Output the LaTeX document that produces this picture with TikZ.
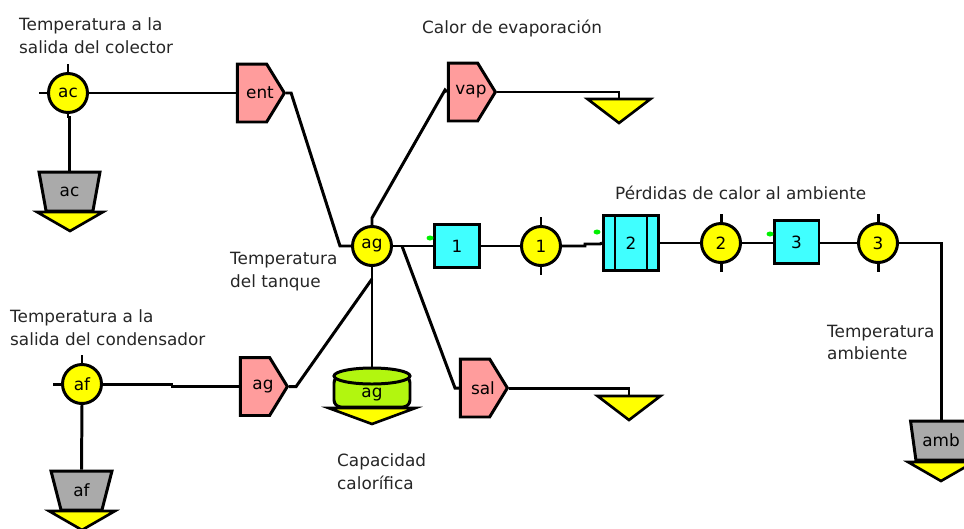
\documentclass[tikz,border=0pt]{standalone}
\usepackage{fontspec}
\setmainfont{DejaVu Sans}
\usetikzlibrary{shapes.geometric,shapes.symbols}
\definecolor{flowred}{RGB}{255,156,156}
\definecolor{gatecyan}{RGB}{64,255,255}
\definecolor{tanklime}{RGB}{178,246,15}
\definecolor{boundgray}{RGB}{170,170,170}
\definecolor{sumyellow}{RGB}{255,255,0}
\definecolor{portgreen}{RGB}{0,240,0}
\begin{document}
\begin{tikzpicture}[x=0.02cm, y=-0.02cm, font=\fontsize{9.6pt}{13pt}\selectfont]
    % Define styles
    \tikzset{
        wire/.style={line width=1.7pt, black},
        sumnode/.style={circle, draw, line width=1.7pt, fill=sumyellow, inner sep=0pt, minimum size=0.78cm},
        flow/.style={signal, signal to=east, signal pointer angle=117, draw, line width=1.7pt, fill=flowred, inner sep=0pt, minimum width=0.94cm, minimum height=1.16cm},
        flowlabel/.style={xshift=0.16cm},
        gate/.style={rectangle, draw, line width=1.7pt, fill=gatecyan, inner sep=0pt, minimum width=0.9cm, minimum height=0.86cm},
        boundary/.style={trapezium, shape border rotate=180, trapezium left angle=73, trapezium right angle=73, trapezium stretches=true, draw, line width=1.7pt, fill=boundgray, inner sep=0pt, minimum width=1.22cm, minimum height=0.78cm},
        sink/.style={isosceles triangle, isosceles triangle stretches, shape border rotate=270, draw, line width=1.5pt, fill=sumyellow, inner sep=0pt, outer sep=0pt, minimum width=1.26cm, minimum height=0.48cm, anchor=apex},
        lowsink/.style={sink, minimum width=1.32cm, minimum height=0.38cm},
        tankpart/.style={draw, line width=1.7pt, fill=tanklime},
        port/.style={ellipse, fill=portgreen, inner sep=0pt, minimum width=0.14cm, minimum height=0.1cm},
        caption/.style={anchor=west, align=left, text=black!85},
    }

    \useasboundingbox (0,0) rectangle (964,528);

    % Sums
    \node[sumnode] (ac) at (68,93) {ac};
    \node[sumnode] (af) at (82,384) {af};
    \node[sumnode] (ag) at (372,246) {ag};
    \node[sumnode] (sum1) at (541,246) {1};
    \node[sumnode] (sum2) at (721,243) {2};
    \node[sumnode] (sum3) at (878,243) {3};

    % Flows
    \node[flow, label={[flowlabel]center:ent}] (ent) at (252,93) {};
    \node[flow, label={[flowlabel]center:vap}] (vap) at (463,92) {};
    \node[flow, label={[flowlabel]center:ag}] (agin) at (255,386.5) {};
    \node[flow, label={[flowlabel]center:sal}] (sal) at (475,388) {};

    % Gates
    \node[gate] (gate1) at (457,246) {1};
    \node[gate, minimum width=1.1cm, minimum height=1.1cm] (gate2) at (631,243) {2};
    \node[gate] (gate3) at (796.5,242) {3};
    \draw[wire] (615,215) -- (615,271);
    \draw[wire] (647,215) -- (647,271);

    \node[port] (port1) at (430,238) {};
    \node[port] (port2) at (597,232) {};
    \node[port] (port3) at (770,234) {};

    % Boundaries and sinks
    \node[boundary] (bac) at (69.5,191.5) {ac};
    \node[lowsink] (sac) at (70,231) {};
    \node[boundary] (baf) at (81.5,490.5) {af};
    \node[lowsink] (saf) at (82,530) {};
    \node[boundary] (bamb) at (941,440.5) {amb};
    \node[lowsink] (samb) at (941,481) {};
    \node[sink] (svap) at (619,123) {};
    \node[sink] (ssal) at (629,420) {};

    % Tank
    \coordinate (tanktop) at (372,368);
    \draw[tankpart, rounded corners=4pt] (334,376) -- (334,407) -- (410,407) -- (410,376) -- cycle;
    \draw[tankpart] (372,376) ellipse [x radius=38, y radius=8];
    \node (tanklabel) at (372,395) {ag};
    \node[sink, minimum width=1.74cm, minimum height=0.32cm] (stank) at (372,424) {};

    % Connectors
    \coordinate (agtap) at (402,246);
    \coordinate (agjoin) at (372,279);
    \draw[wire] (ac.east) -- (ent.west);
    \draw[wire] (ac.south) -- ++(0,3) -| (bac.north);
    \draw[wire] (af.east) -- (172,384) -- (172,386.5) -- (agin.west);
    \draw[wire] (af.south) -- (baf.north);
    \draw[wire] (ent.east) -- ++(5,0) -- (340,246) -- (ag.west);
    \draw[wire] (ag.north) -- (372,218) -- (445,90) -- (vap.west);
    \draw[wire] (vap.east) -| (svap.lower side);
    \draw[wire] (agin.east) -- ++(7,0) -- (agjoin);
    \draw[wire] (ag.south) -- (tanktop);
    \draw[wire] (ag.east) -- (gate1.west);
    \draw[wire] (agtap) -- (455,388) -- (sal.west);
    \draw[wire] (sal.east) -| (ssal.lower side);
    \draw[wire] (gate1.east) -- (sum1.west);
    \draw[wire] (sum1.east) -- (585,246) -- (585,244) -- (600,244) -- (gate2.west);
    \draw[wire] (gate2.east) -- (sum2.west);
    \draw[wire] (sum2.east) -- (gate3.west |- sum2.east);
    \draw[wire] (gate3.east |- sum3.west) -- (sum3.west);
    \draw[wire] (sum3.east) -| (bamb.north);

    % Ticks
    \draw[wire] (ac.north) -- ++(0,-8);
    \draw[wire] (ac.west) -- ++(-8,0);
    \draw[wire] (af.north) -- ++(0,-8);
    \draw[wire] (af.west) -- ++(-8,0);
    \foreach \nm in {sum1,sum2,sum3} {
        \draw[wire] (\nm.north) -- ++(0,-8);
        \draw[wire] (\nm.south) -- ++(0,8);
    }

    % Captions
    \node[caption] (capac) at (13,35.5) {Temperatura a la\\salida del colector};
    \node[caption] (capaf) at (4,327.5) {Temperatura a la\\salida del condensador};
    \node[caption] (capvap) at (416,29) {Calor de evaporación};
    \node[caption] (capper) at (609,193) {Pérdidas de calor al ambiente};
    \node[caption] (capag) at (224,272) {Temperatura\\del tanque};
    \node[caption] (capcap) at (331,472) {Capacidad\\calorífica};
    \node[caption] (capamb) at (821,342.5) {Temperatura\\ambiente};
\end{tikzpicture}
\end{document}
